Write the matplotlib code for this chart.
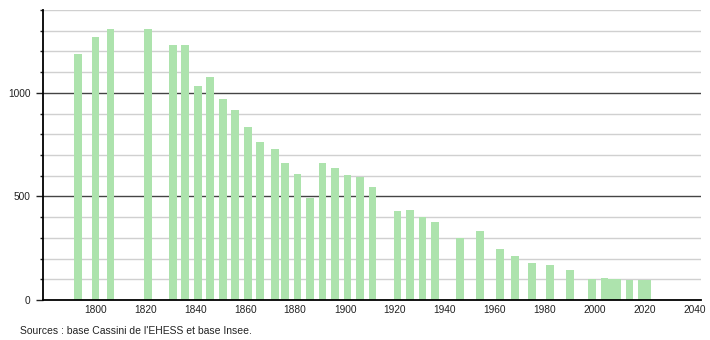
import matplotlib
matplotlib.use("Agg")
from matplotlib import pyplot as plt
from matplotlib.ticker import MultipleLocator

# census years and population
years = [1793, 1800, 1806, 1821, 1831, 1836, 1841, 1846, 1851, 1856,
         1861, 1866, 1872, 1876, 1881, 1886, 1891, 1896, 1901, 1906,
         1911, 1921, 1926, 1931, 1936, 1946, 1954, 1962, 1968, 1975,
         1982, 1990, 1999, 2004, 2007, 2009, 2014, 2019, 2021]
pop = [1188, 1269, 1308, 1308, 1232, 1232, 1034, 1076, 971, 918,
       836, 763, 729, 662, 609, 493, 662, 638, 602, 596,
       545, 430, 435, 402, 377, 297, 333, 246, 214, 179,
       169, 146, 101, 108, 100, 100, 97, 97, 97]

xticks = list(range(1800, 2041, 20))
yticks = [0, 500, 1000]
source = "Sources : base Cassini de l'EHESS et base Insee."

plt.rcParams['font.family'] = ['Liberation Sans', 'DejaVu Sans']
plt.rcParams['font.size'] = 7.3

fig = plt.figure(figsize=(7.1, 3.4), dpi=100)
ax = fig.add_axes([43/710, 1 - 300/340, (700.7 - 43)/710, 290/340])

# grid: light every 100, dark at 500 / 1000
for v in range(100, 1401, 100):
    if v % 500 == 0:
        ax.axhline(v, color='#444444', lw=1.0, zorder=1)
    else:
        ax.axhline(v, color='#d0d0d0', lw=1.0, zorder=1)

ax.bar(years, pop, width=3.1, color='#ade3ad', zorder=2)

ax.set_xlim(1779, 2042.5)
ax.set_ylim(0, 1400)
ax.set_xticks(xticks)
ax.set_yticks(yticks)
ax.yaxis.set_minor_locator(MultipleLocator(100))
ax.tick_params(axis='x', length=0, pad=3.5, colors='#222222')
ax.tick_params(axis='y', which='major', length=5, width=1, pad=4, colors='#222222')
ax.tick_params(axis='y', which='minor', length=2, width=1, color='#222222')

for s in ['top', 'right']:
    ax.spines[s].set_visible(False)
for s in ['left', 'bottom']:
    ax.spines[s].set_color('black')
    ax.spines[s].set_linewidth(1.3)

fig.text(20.5/710, 1 - 334/340, source, fontsize=7.5, color='#222222', va='baseline')

fig.savefig('out.png', dpi=100)
